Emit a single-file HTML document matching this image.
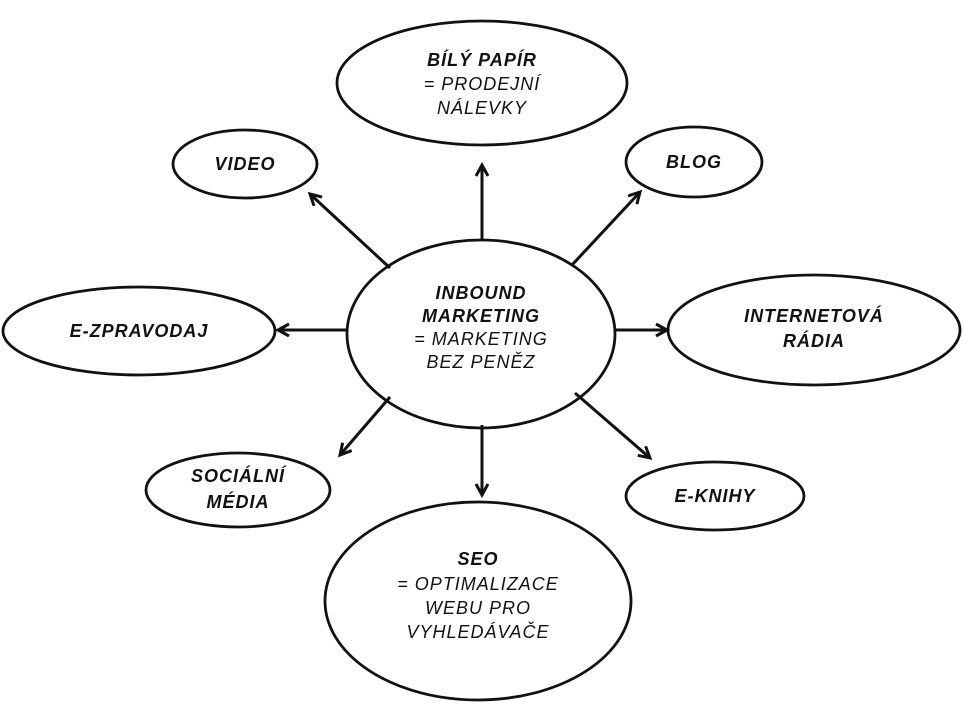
<!DOCTYPE html>
<html><head><meta charset="utf-8"><style>
html,body{margin:0;padding:0;background:#fff;}
svg text{font-family:"Liberation Sans",sans-serif;font-style:italic;font-size:18px;fill:#111;text-anchor:middle;letter-spacing:1px;}
.b{font-weight:bold;}
</style></head><body>
<svg width="963" height="723" viewBox="0 0 963 723" xmlns="http://www.w3.org/2000/svg">
<defs><marker id="a" markerWidth="16" markerHeight="16" refX="12" refY="7" orient="auto" markerUnits="userSpaceOnUse"><path d="M1,1 L12,7 L1,13" fill="none" stroke="#111" stroke-width="3"/></marker></defs>
<g fill="none" stroke="#111" stroke-width="2.8">
<ellipse cx="481" cy="334" rx="134" ry="94"/>
<ellipse cx="482" cy="83" rx="145" ry="62"/>
<ellipse cx="245" cy="164" rx="72" ry="34"/>
<ellipse cx="694" cy="162" rx="68" ry="35"/>
<ellipse cx="139" cy="331" rx="136" ry="44"/>
<ellipse cx="814" cy="330" rx="146" ry="55"/>
<ellipse cx="238" cy="490" rx="92" ry="37"/>
<ellipse cx="715" cy="496" rx="89" ry="34"/>
<ellipse cx="478" cy="601" rx="153" ry="99"/>
<g stroke-width="3" marker-end="url(#a)">
<line x1="482" y1="240" x2="482" y2="165"/>
<line x1="390" y1="268" x2="310" y2="194"/>
<line x1="572" y1="265" x2="640" y2="192"/>
<line x1="347" y1="330" x2="278" y2="330"/>
<line x1="614" y1="330" x2="667" y2="330"/>
<line x1="390" y1="397" x2="340" y2="455"/>
<line x1="482" y1="425" x2="482" y2="495"/>
<line x1="575" y1="393" x2="650" y2="458"/>
</g></g>
<text x="481" y="299" class="b">INBOUND</text>
<text x="481" y="322" class="b">MARKETING</text>
<text x="481" y="345">= MARKETING</text>
<text x="481" y="368">BEZ PENĚZ</text>
<text x="482" y="66" class="b">BÍLÝ PAPÍR</text>
<text x="482" y="90">= PRODEJNÍ</text>
<text x="482" y="114">NÁLEVKY</text>
<text x="245" y="170" class="b">VIDEO</text>
<text x="694" y="168" class="b">BLOG</text>
<text x="139" y="337" class="b">E-ZPRAVODAJ</text>
<text x="814" y="322" class="b">INTERNETOVÁ</text>
<text x="814" y="347" class="b">RÁDIA</text>
<text x="238" y="482" class="b">SOCIÁLNÍ</text>
<text x="238" y="508" class="b">MÉDIA</text>
<text x="715" y="502" class="b">E-KNIHY</text>
<text x="478" y="565" class="b">SEO</text>
<text x="478" y="590">= OPTIMALIZACE</text>
<text x="478" y="614">WEBU PRO</text>
<text x="478" y="638">VYHLEDÁVAČE</text>
</svg>
</body></html>
